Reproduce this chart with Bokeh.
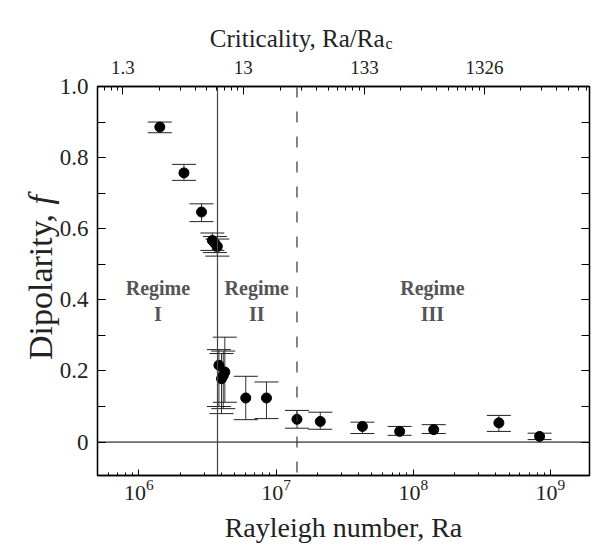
import math
from bokeh.plotting import figure
from bokeh.models import (ColumnDataSource, Whisker, TeeHead, Span, LogAxis, LinearAxis,
                          FixedTicker, SingleIntervalTicker, LogTicker, CustomJSTickFormatter,
                          Range1d, Label, LogScale)
from bokeh.embed import file_html
from bokeh.resources import INLINE
from bokeh.core.properties import value

# ---- data ----
ra = [1.42e6, 2.13e6, 2.86e6, 3.43e6, 3.58e6, 3.73e6, 3.83e6, 4.00e6, 4.12e6, 4.23e6,
      6.01e6, 8.51e6, 1.42e7, 2.10e7, 4.26e7, 7.96e7, 1.41e8, 4.21e8, 8.34e8]
dip = [0.886, 0.757, 0.647, 0.567, 0.559, 0.550, 0.216, 0.178, 0.187, 0.197,
       0.124, 0.124, 0.064, 0.058, 0.044, 0.030, 0.035, 0.054, 0.016]
dip_hi = [0.900, 0.781, 0.670, 0.588, 0.578, 0.571, 0.260, 0.249, 0.256, 0.295,
          0.185, 0.169, 0.089, 0.084, 0.056, 0.044, 0.049, 0.075, 0.025]
dip_lo = [0.870, 0.736, 0.620, 0.539, 0.533, 0.523, 0.100, 0.080, 0.094, 0.112,
          0.063, 0.066, 0.039, 0.036, 0.024, 0.019, 0.024, 0.030, 0.007]

regime_bounds = [3.74e6, 1.42e7]          # solid, dashed
regime_text = ["Regime\nI", "Regime\nII", "Regime\nIII"]
regime_x = [1.375e6, 7.23e6, 1.38e8]
regime_y = [0.396, 0.396, 0.396]

crit_ticks = [1.3, 13, 133, 1326]
y_ticks_interval = 0.2

FONT = "Liberation Serif"
INK = "#222222"

p = figure(x_axis_type="log",
           x_range=Range1d(10 ** 5.698, 10 ** 9.285),
           y_range=Range1d(-0.094, 1.0),
           frame_width=492, frame_height=389,
           min_border_left=97, min_border_right=3, min_border_top=86, min_border_bottom=74,
           output_backend="svg", toolbar_location=None,
           background_fill_color="white", border_fill_color="white")
p.grid.visible = False
p.outline_line_color = "black"
p.outline_line_width = 1.3

# bottom axis
xa = p.xaxis[0]
xa.ticker = LogTicker(num_minor_ticks=10)
xa.axis_label = "Rayleigh number, Ra"
xa.axis_label_text_font = FONT
xa.axis_label_text_font_style = "normal"
xa.axis_label_text_font_size = "28px"
xa.axis_label_text_color = INK
xa.axis_label_standoff = 9
xa.major_label_text_font = FONT
xa.major_label_text_font_size = "22px"
xa.major_label_text_color = INK
xa.major_label_standoff = 4
xa.major_tick_in = 6
xa.major_tick_out = 0
xa.minor_tick_in = 3
xa.minor_tick_out = 0
xa.axis_line_width = 1.3

# left axis
ya = p.yaxis[0]
ya.ticker = SingleIntervalTicker(interval=y_ticks_interval, num_minor_ticks=2)
ya.formatter = CustomJSTickFormatter(code="return Math.abs(tick) < 1e-9 ? '0' : tick.toFixed(1)")
ya.major_label_text_font = FONT
ya.major_label_text_font_size = "23px"
ya.major_label_text_color = INK
ya.major_label_standoff = 9
ya.major_tick_in = 8
ya.major_tick_out = 0
ya.minor_tick_in = 8
ya.minor_tick_out = 0
ya.axis_line_width = 1.3

# right axis (ticks only)
ra_ax = LinearAxis(ticker=SingleIntervalTicker(interval=y_ticks_interval, num_minor_ticks=2),
                   formatter=CustomJSTickFormatter(code="return ''"),
                   major_tick_in=8, major_tick_out=0, minor_tick_in=8, minor_tick_out=0,
                   major_label_standoff=0, axis_line_width=1.3)
p.add_layout(ra_ax, "right")

# top axis: criticality
lo_c = math.log10(crit_ticks[0]) - 25.5 / 120.3
hi_c = math.log10(crit_ticks[0]) + 467.0 / 120.3
p.extra_x_ranges = {"crit": Range1d(10 ** lo_c, 10 ** hi_c)}
p.extra_x_scales = {"crit": LogScale()}
crit_minor = [b * k for b in [c / 10 for c in crit_ticks] + [crit_ticks[-1]] for k in range(2, 10)]
top = LogAxis(x_range_name="crit",
              ticker=FixedTicker(ticks=crit_ticks, minor_ticks=crit_minor),
              formatter=CustomJSTickFormatter(code="return tick.toString()"),
              major_label_text_font=FONT, major_label_text_font_size="19px",
              major_label_text_color=INK, major_label_standoff=13,
              major_tick_in=8, major_tick_out=0, minor_tick_in=4, minor_tick_out=0,
              axis_line_width=1.3)
p.add_layout(top, "above")

# titles with mixed styles, drawn as labels in the side panels (canvas pixel units)
p.add_layout(Label(x=384, y=38, x_units="canvas", y_units="canvas", text="Criticality, Ra/Ra",
                   text_font=FONT, text_font_size="25px", text_color=INK,
                   text_align="right", text_baseline="alphabetic"), "above")
p.add_layout(Label(x=385, y=43, x_units="canvas", y_units="canvas", text="c",
                   text_font=FONT, text_font_size="16px", text_color=INK,
                   text_align="left", text_baseline="alphabetic"), "left")
p.add_layout(Label(x=40, y=205, x_units="canvas", y_units="canvas", text="Dipolarity, ",
                   angle=math.pi / 2, text_font=FONT, text_font_size="34px", text_color=INK,
                   text_align="right", text_baseline="alphabetic"), "left")
p.add_layout(Label(x=40, y=204, x_units="canvas", y_units="canvas", text="f",
                   angle=math.pi / 2, text_font=FONT, text_font_style="italic",
                   text_font_size="34px", text_color=INK,
                   text_align="left", text_baseline="alphabetic"), "above")

# reference lines
p.add_layout(Span(location=0, dimension="width", line_color="black", line_width=1))
p.add_layout(Span(location=regime_bounds[0], dimension="height", line_color="#444444", line_width=1.2))
p.add_layout(Span(location=regime_bounds[1], dimension="height", line_color="#333333",
                  line_width=1.2, line_dash="11 14"))

# regime labels
p.text(x=regime_x, y=regime_y, text=regime_text, text_font=value(FONT), text_font_style="bold",
       text_font_size="20px", text_color="#555555", text_align="center", text_baseline="middle",
       text_line_height=1.2)

# data
src = ColumnDataSource(dict(ra=ra, f=dip, hi=dip_hi, lo=dip_lo))
p.add_layout(Whisker(source=src, base="ra", upper="hi", lower="lo", dimension="height",
                     line_color="#333333", line_width=1,
                     upper_head=TeeHead(size=24, line_color="#222222", line_width=1),
                     lower_head=TeeHead(size=24, line_color="#222222", line_width=1)))
p.scatter("ra", "f", source=src, size=10, color="black")

open("out.html", "w").write(file_html(p, INLINE))
